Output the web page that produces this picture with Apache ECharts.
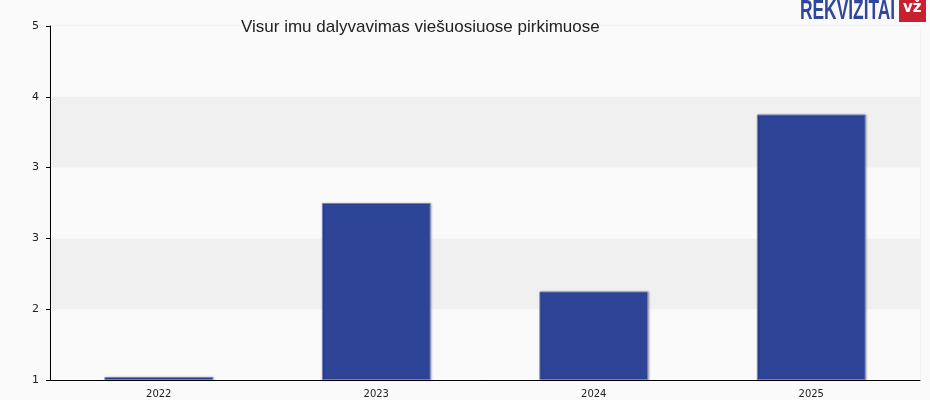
<!DOCTYPE html>
<html><head><meta charset="utf-8">
<script src="https://cdn.jsdelivr.net/npm/echarts@6/dist/echarts.min.js"></script>
<style>html,body{margin:0;padding:0;background:#fafafa}#c{width:930px;height:400px}</style>
</head><body><div id="c"></div>
<script>
var categories = ['2022', '2023', '2024', '2025'];
var values = [1, 3, 2, 4];
var axisMin = 1;
var titleText = 'Visur imu dalyvavimas viešuosiuose pirkimuose';

var chart = echarts.init(document.getElementById('c'), null, {renderer: 'canvas'});
var barStyle = {color: '#2e4497', borderColor: '#7282c2', borderWidth: 1,
  shadowColor: 'rgba(0,0,0,0.25)', shadowBlur: 2, shadowOffsetX: 1, shadowOffsetY: 0};
chart.setOption({
  backgroundColor: '#fafafa',
  animation: false,
  title: {
    text: titleText, left: 236, top: 14,
    textStyle: {fontFamily: 'Liberation Sans, Arial, sans-serif', fontSize: 17, fontWeight: 'normal', color: '#222'}
  },
  graphic: [
    {type: 'text', x: 800, y: -3, scaleX: 0.62, style: {text: 'REKVIZITAI', fontFamily: 'Liberation Sans, Arial, sans-serif', fontWeight: 'bold', fontSize: 28, fill: '#2f479c'}},
    {type: 'rect', shape: {x: 899, y: 0, width: 27, height: 22}, style: {fill: '#c8202e'}},
    {type: 'text', x: 903, y: 1, style: {text: 'vž', fontFamily: 'DejaVu Sans, sans-serif', fontWeight: 'bold', fontSize: 15, fill: '#fff'}}
  ],
  grid: {left: 50, right: 10, top: 26, bottom: 20, show: true, borderColor: '#ebebeb', borderWidth: 1, backgroundColor: 'transparent'},
  xAxis: {
    type: 'category', data: categories,
    axisLine: {lineStyle: {color: '#000', width: 1}},
    axisTick: {alignWithLabel: true, length: 4, lineStyle: {color: '#000'}},
    axisLabel: {color: '#222', fontSize: 10, fontFamily: 'DejaVu Sans, sans-serif', margin: 9}
  },
  yAxis: {
    type: 'value', min: axisMin, max: 5, interval: 0.8,
    axisLine: {show: true, lineStyle: {color: '#000', width: 1}},
    axisTick: {show: true, length: 4, lineStyle: {color: '#000'}},
    axisLabel: {color: '#222', fontSize: 11, fontFamily: 'DejaVu Sans, sans-serif', margin: 11,
      formatter: function (v) { return String(Math.round(v)); }},
    splitLine: {show: false},
    splitArea: {show: true, areaStyle: {color: ['#fafafa', '#f0f0f0']}}
  },
  series: [
    {type: 'bar', stack: 'b', data: values.map(function () { return axisMin; }), barWidth: '50%',
      itemStyle: {color: 'rgba(0,0,0,0)'}, silent: true},
    {type: 'bar', stack: 'b', data: values.map(function (v) { return v - axisMin; }), barWidth: '50%',
      barMinHeight: 3, z: 5, itemStyle: barStyle}
  ]
});
</script></body></html>
